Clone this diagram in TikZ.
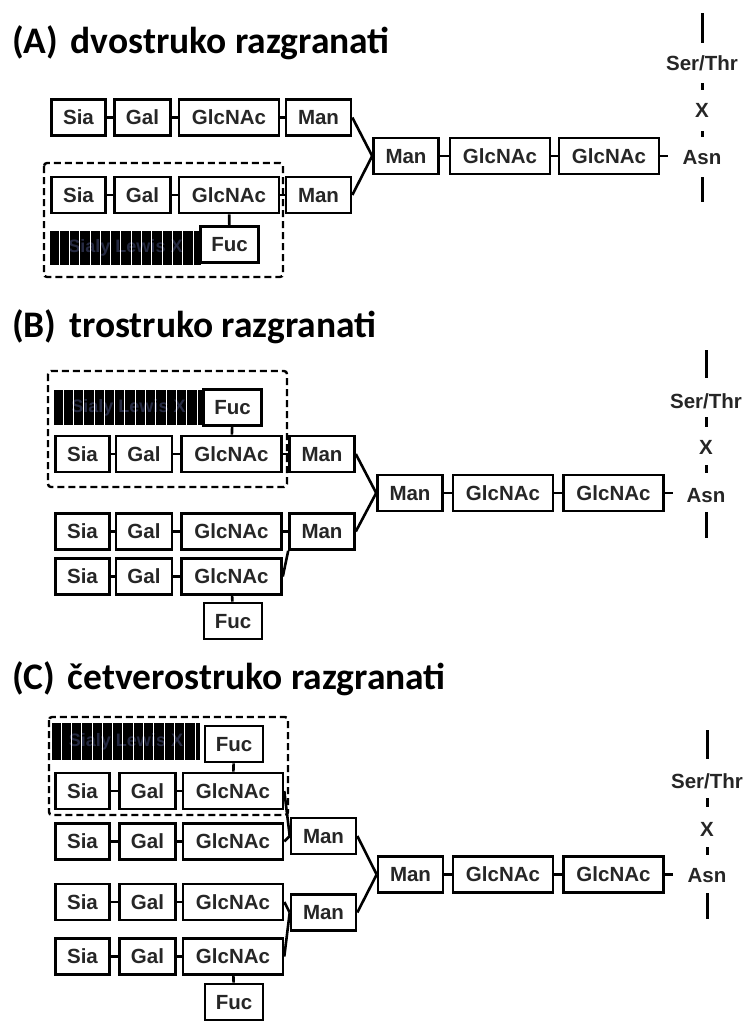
\documentclass[tikz,border=0pt]{standalone}
\usepackage{fontspec}
\setmainfont{Carlito}
\newfontfamily\sugfont{Liberation Sans}

\tikzset{
  sug/.style={draw, line width=2.6pt, fill=white, inner sep=0pt,
    minimum height=36pt, text height=14.7pt, text depth=0pt, text=black!85,
    font=\sugfont\bfseries\fontsize{20.5}{22}\selectfont},
  sia/.style={sug, minimum width=54pt},
  gal/.style={sug, minimum width=56pt},
  glc/.style={sug, minimum width=100pt},
  man/.style={sug, minimum width=65pt},
  fuc/.style={sug, minimum width=58pt},
  slx/.style={fill=black, inner sep=0pt, text={rgb,255:red,38;green,42;blue,66},
    font=\sugfont\bfseries\fontsize{18}{20}\selectfont},
  amino/.style={inner sep=0pt, text height=14.7pt, text depth=0pt, text=black!85,
    font=\sugfont\bfseries\fontsize{20.5}{22}\selectfont},
  naslov/.style={anchor=west, inner sep=0pt, font=\bfseries\fontsize{37.5}{42}\selectfont},
  okvir/.style={line width=2.4pt, dash pattern=on 7pt off 4pt, rounded corners=3pt},
  veza/.style={line width=2.6pt},
  crta/.style={line width=3pt}
}

\begin{document}
\begin{tikzpicture}[x=1pt, y=-1pt]
  \useasboundingbox (0,0) rectangle (743,1021);

  % (A)
  \node[naslov] (naslovA) at (12,43) {(A)\hspace{4pt} dvostruko razgranati};
  \draw[okvir] (44,163) rectangle (283,277);
  \node[slx, minimum width=151pt, minimum height=34pt] (aSlx) at (125.5,248) {Sialy Lewis X};
  \foreach \k in {1,...,14}
    \draw[white, line width=0.9pt] ([xshift=10.3*\k pt-1pt]aSlx.north west) -- ([xshift=10.3*\k pt-1pt]aSlx.south west);
  \node[sia] (aSia1) at (78.5,117.5) {Sia};
  \node[gal] (aGal1) at (142.5,117.5) {Gal};
  \node[glc] (aGlc1) at (229,117.5) {GlcNAc};
  \node[man] (aMan1) at (318.5,117.5) {Man};
  \node[sia] (aSia2) at (78.5,195) {Sia};
  \node[gal] (aGal2) at (142.5,195) {Gal};
  \node[glc] (aGlc2) at (229,195) {GlcNAc};
  \node[man] (aMan2) at (318.5,195) {Man};
  \node[fuc] (aFuc) at (229.5,244.5) {Fuc};
  \node[man] (aCMan) at (406,156) {Man};
  \node[glc] (aCGlc1) at (500,156) {GlcNAc};
  \node[glc] (aCGlc2) at (609,156) {GlcNAc};
  \node[amino] (aSer) at (702,63) {Ser/Thr};
  \node[amino] (aX) at (702,110) {X};
  \node[amino] (aAsn) at (702,157) {Asn};
  \begin{scope}[veza]
    \draw (aSia1) -- (aGal1);
    \draw (aGal1) -- (aGlc1);
    \draw (aGlc1) -- (aMan1);
    \draw (aSia2) -- (aGal2);
    \draw (aGal2) -- (aGlc2);
    \draw (aGlc2) -- (aMan2);
    \draw (aGlc2) -- (aFuc);
    \draw (aMan1.east) -- (aCMan.west);
    \draw (aMan2.east) -- (aCMan.west);
    \draw (aCMan) -- (aCGlc1);
    \draw (aCGlc1) -- (aCGlc2);
    \draw (aCGlc2.east) -- ++(8,0);
  \end{scope}
  \draw[crta] (702,13) -- (702,43);
  \draw[crta] (702,83) -- (702,90);
  \draw[crta] (702,131) -- (702,137);
  \draw[crta] (702,177) -- (702,202);

  % (B)
  \node[naslov] (naslovB) at (12,327) {(B)\hspace{4pt} trostruko razgranati};
  \draw[okvir] (48,371) rectangle (287,487);
  \node[slx, minimum width=149pt, minimum height=35pt] (bSlx) at (128.5,407.5) {Sialy Lewis X};
  \foreach \k in {1,...,14}
    \draw[white, line width=0.9pt] ([xshift=10.3*\k pt-1pt]bSlx.north west) -- ([xshift=10.3*\k pt-1pt]bSlx.south west);
  \node[fuc] (bFuc1) at (232.5,407.5) {Fuc};
  \node[sia] (bSia1) at (82.5,454) {Sia};
  \node[gal] (bGal1) at (144,454) {Gal};
  \node[glc] (bGlc1) at (231.5,454) {GlcNAc};
  \node[man] (bMan1) at (322,454) {Man};
  \node[sia] (bSia2) at (82.5,531.5) {Sia};
  \node[gal] (bGal2) at (144,531.5) {Gal};
  \node[glc] (bGlc2) at (231.5,531.5) {GlcNAc};
  \node[man] (bMan2) at (322,531.5) {Man};
  \node[sia] (bSia3) at (82.5,576.5) {Sia};
  \node[gal] (bGal3) at (144,576.5) {Gal};
  \node[glc] (bGlc3) at (231.5,576.5) {GlcNAc};
  \node[fuc] (bFuc2) at (233,621) {Fuc};
  \node[man] (bCMan) at (410,493) {Man};
  \node[glc] (bCGlc1) at (503,493) {GlcNAc};
  \node[glc] (bCGlc2) at (613.5,493) {GlcNAc};
  \node[amino] (bSer) at (706,401) {Ser/Thr};
  \node[amino] (bX) at (706,447) {X};
  \node[amino] (bAsn) at (706,495) {Asn};
  \begin{scope}[veza]
    \draw (bFuc1) -- (bGlc1);
    \draw (bSia1) -- (bGal1);
    \draw (bGal1) -- (bGlc1);
    \draw (bGlc1) -- (bMan1);
    \draw (bSia2) -- (bGal2);
    \draw (bGal2) -- (bGlc2);
    \draw (bGlc2) -- (bMan2);
    \draw (bSia3) -- (bGal3);
    \draw (bGal3) -- (bGlc3);
    \draw (bGlc3.east) -- (bMan2.south west);
    \draw (bGlc3) -- (bFuc2);
    \draw (bMan1.east) -- (bCMan.west);
    \draw (bMan2.east) -- (bCMan.west);
    \draw (bCMan) -- (bCGlc1);
    \draw (bCGlc1) -- (bCGlc2);
    \draw (bCGlc2.east) -- ++(8,0);
  \end{scope}
  \draw[crta] (706,350) -- (706,378);
  \draw[crta] (706,417) -- (706,427);
  \draw[crta] (706,465) -- (706,473);
  \draw[crta] (706,512) -- (706,538);

  % (C)
  \node[naslov] (naslovC) at (12,679) {(C)\hspace{4pt} četverostruko razgranati};
  \draw[okvir] (49,717) rectangle (288,815);
  \node[slx, minimum width=148pt, minimum height=37pt] (cSlx) at (126,741.5) {Sialy Lewis X};
  \foreach \k in {1,...,14}
    \draw[white, line width=0.9pt] ([xshift=10.3*\k pt-1pt]cSlx.north west) -- ([xshift=10.3*\k pt-1pt]cSlx.south west);
  \node[fuc] (cFuc1) at (234,744) {Fuc};
  \node[sia] (cSia1) at (82.5,791) {Sia};
  \node[gal] (cGal1) at (147.5,791) {Gal};
  \node[glc] (cGlc1) at (233,791) {GlcNAc};
  \node[sia] (cSia2) at (82.5,841.5) {Sia};
  \node[gal] (cGal2) at (147.5,841.5) {Gal};
  \node[glc] (cGlc2) at (233,841.5) {GlcNAc};
  \node[man] (cMan1) at (323.5,836) {Man};
  \node[sia] (cSia3) at (82.5,902) {Sia};
  \node[gal] (cGal3) at (147.5,902) {Gal};
  \node[glc] (cGlc3) at (233,902) {GlcNAc};
  \node[man] (cMan2) at (323.5,912.5) {Man};
  \node[sia] (cSia4) at (82.5,956.5) {Sia};
  \node[gal] (cGal4) at (147.5,956.5) {Gal};
  \node[glc] (cGlc4) at (233,956.5) {GlcNAc};
  \node[fuc] (cFuc2) at (234,1002) {Fuc};
  \node[man] (cCMan) at (410.5,874.5) {Man};
  \node[glc] (cCGlc1) at (503,874.5) {GlcNAc};
  \node[glc] (cCGlc2) at (613.5,874.5) {GlcNAc};
  \node[amino] (cSer) at (707,781) {Ser/Thr};
  \node[amino] (cX) at (707,829) {X};
  \node[amino] (cAsn) at (707,875) {Asn};
  \begin{scope}[veza]
    \draw (cFuc1) -- (cGlc1);
    \draw (cSia1) -- (cGal1);
    \draw (cGal1) -- (cGlc1);
    \draw (cGlc1.east) -- (cMan1.west);
    \draw (cSia2) -- (cGal2);
    \draw (cGal2) -- (cGlc2);
    \draw (cGlc2.east) -- (cMan1.west);
    \draw (cSia3) -- (cGal3);
    \draw (cGal3) -- (cGlc3);
    \draw (cGlc3.east) -- (cMan2.west);
    \draw (cSia4) -- (cGal4);
    \draw (cGal4) -- (cGlc4);
    \draw (cGlc4.east) -- (cMan2.west);
    \draw (cGlc4) -- (cFuc2);
    \draw (cMan1.east) -- (cCMan.west);
    \draw (cMan2.east) -- (cCMan.west);
    \draw (cCMan) -- (cCGlc1);
    \draw (cCGlc1) -- (cCGlc2);
    \draw (cCGlc2.east) -- ++(8,0);
  \end{scope}
  \draw[crta] (707,730) -- (707,759);
  \draw[crta] (707,798) -- (707,807);
  \draw[crta] (707,847) -- (707,855);
  \draw[crta] (707,893) -- (707,919);
\end{tikzpicture}
\end{document}
